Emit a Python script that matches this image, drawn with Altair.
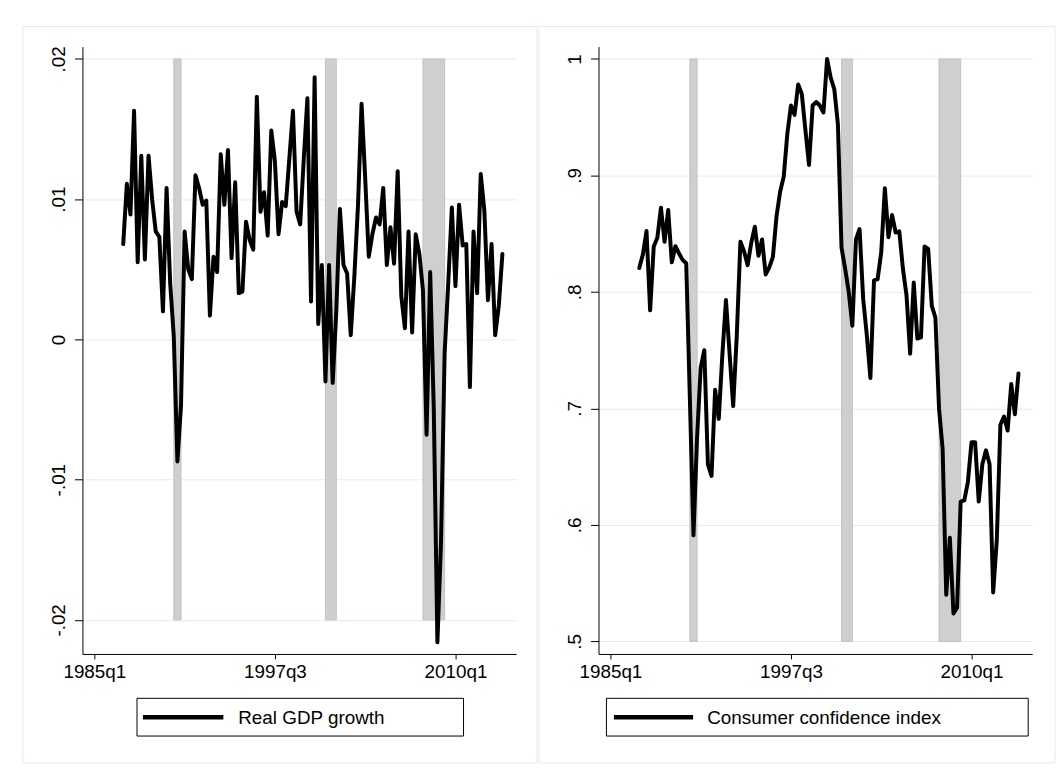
import altair as alt
import pandas as pd

# ---- data (Stata quarterly index: 100 = 1985q1) ----
quarters = list(range(108, 214))  # 1987q1 .. 2013q2

gdp_growth = [
    0.0068, 0.0111, 0.0089, 0.0163, 0.0055, 0.0131, 0.0057, 0.0131, 0.0100, 0.0077,
    0.0073, 0.0020, 0.0108, 0.0040, 0.0002, -0.0087, -0.0047, 0.0077, 0.0050, 0.0043,
    0.0117, 0.0108, 0.0096, 0.0099, 0.0017, 0.0059, 0.0048, 0.0132, 0.0096, 0.0135,
    0.0058, 0.0112, 0.0033, 0.0034, 0.0084, 0.0071, 0.0064, 0.0173, 0.0091, 0.0105,
    0.0074, 0.0149, 0.0127, 0.0075, 0.0098, 0.0095, 0.0129, 0.0163, 0.0091, 0.0082,
    0.0129, 0.0172, 0.0027, 0.0187, 0.0011, 0.0053, -0.0030, 0.0053, -0.0031, 0.0020,
    0.0093, 0.0053, 0.0047, 0.0003, 0.0045, 0.0095, 0.0168, 0.0115, 0.0059, 0.0075,
    0.0087, 0.0082, 0.0108, 0.0053, 0.0080, 0.0054, 0.0120, 0.0031, 0.0008, 0.0077,
    0.0005, 0.0075, 0.0061, 0.0035, -0.0068, 0.0048, -0.0050, -0.0216, -0.0145, -0.0010,
    0.0040, 0.0094, 0.0038, 0.0096, 0.0067, 0.0068, -0.0034, 0.0077, 0.0033, 0.0118,
    0.0092, 0.0028, 0.0068, 0.0003, 0.0024, 0.0061,
]

consumer_conf = [
    0.8205, 0.8324, 0.8523, 0.7842, 0.8390, 0.8466, 0.8722, 0.8430, 0.8703, 0.8254,
    0.8392, 0.8330, 0.8275, 0.8245, 0.709, 0.591, 0.675, 0.735, 0.750, 0.652,
    0.642, 0.716, 0.691, 0.746, 0.793, 0.747, 0.702, 0.763, 0.843, 0.835,
    0.823, 0.842, 0.856, 0.831, 0.845, 0.815, 0.821, 0.830, 0.865, 0.886,
    0.899, 0.936, 0.960, 0.952, 0.978, 0.970, 0.939, 0.909, 0.960, 0.963,
    0.960, 0.954, 1.000, 0.984, 0.974, 0.944, 0.838, 0.820, 0.800, 0.771,
    0.845, 0.854, 0.794, 0.763, 0.726, 0.810, 0.811, 0.834, 0.889, 0.847,
    0.866, 0.851, 0.852, 0.820, 0.797, 0.747, 0.808, 0.760, 0.761, 0.839,
    0.837, 0.788, 0.778, 0.700, 0.665, 0.540, 0.589, 0.524, 0.529, 0.620,
    0.621, 0.637, 0.671, 0.671, 0.620, 0.652, 0.664, 0.652, 0.542, 0.587,
    0.686, 0.693, 0.681, 0.721, 0.695, 0.730,
]

# NBER recessions (quarter index)
rec_start = [122, 164, 191]
rec_end = [124, 167, 197]

x_tick_values = [100, 150, 200]
x_tick_labels = ["1985q1", "1997q3", "2010q1"]

gdp_tick_values = [-0.02, -0.01, 0, 0.01, 0.02]
gdp_tick_labels = ["-.02", "-.01", "0", ".01", ".02"]
cci_tick_values = [0.5, 0.6, 0.7, 0.8, 0.9, 1]
cci_tick_labels = [".5", ".6", ".7", ".8", ".9", "1"]

legend_labels = ["Real GDP growth", "Consumer confidence index"]

FONT = "Liberation Sans"
FS = 19
W, H = 437, 612


def label_expr(values, labels):
    expr = "''"
    for v, l in reversed(list(zip(values, labels))):
        expr = f"datum.value == {v} ? '{l}' : ({expr})"
    return expr


x_axis = alt.Axis(
    values=x_tick_values, labelExpr=label_expr(x_tick_values, x_tick_labels),
    title=None, grid=False, tickSize=5, tickColor="black", domainColor="black",
    labelFont=FONT, labelFontSize=FS, labelColor="black", labelPadding=4,
    labelOverlap=False, labelFlush=False,
)


def make_y_axis(values, labels):
    return alt.Axis(
        values=values, labelExpr=label_expr(values, labels), title=None,
        grid=True, gridColor="#e3ebed", gridWidth=1,
        tickSize=8, tickColor="black", domainColor="black",
        labelFont=FONT, labelFontSize=FS, labelColor="black",
        labelAngle=270, labelAlign="center", labelBaseline="bottom",
        labelPadding=6, labelOverlap=False, labelFlush=False,
    )


def panel(values, ydom, shade_lo, shade_hi, tvals, tlabels, legend_label,
          box_x, box_x2, sym_x, sym_x2, txt_x, frame_x2):
    df = pd.DataFrame({"t": quarters, "v": values})
    rec = pd.DataFrame({"start": rec_start, "end": rec_end,
                        "lo": [shade_lo] * 3, "hi": [shade_hi] * 3})
    xs = alt.Scale(domain=[96.7, 216.8], nice=False, zero=False)
    ys = alt.Scale(domain=ydom, nice=False, zero=False)
    y_axis = make_y_axis(tvals, tlabels)

    shade = alt.Chart(rec).mark_rect(fill="#cfcfcf", stroke="#c2c2c2", strokeWidth=1).encode(
        x=alt.X("start:Q", scale=xs, axis=x_axis),
        x2="end:Q",
        y=alt.Y("lo:Q", scale=ys, axis=y_axis),
        y2="hi:Q",
    )
    line = alt.Chart(df).mark_line(
        color="black", strokeWidth=4, strokeJoin="round", strokeCap="round"
    ).encode(
        x=alt.X("t:Q", scale=xs, axis=x_axis),
        y=alt.Y("v:Q", scale=ys, axis=y_axis),
    )
    ldf = pd.DataFrame({"label": [legend_label]})
    frame = alt.Chart(ldf).mark_rect(fillOpacity=0, stroke="#e3ebed", strokeWidth=1).encode(
        x=alt.value(-60), x2=alt.value(frame_x2), y=alt.value(-20.3), y2=alt.value(721.7)
    )
    box = alt.Chart(ldf).mark_rect(fillOpacity=0, stroke="black", strokeWidth=1).encode(
        x=alt.value(box_x), x2=alt.value(box_x2), y=alt.value(656.7), y2=alt.value(694.7)
    )
    sym = alt.Chart(ldf).mark_rule(color="black", strokeWidth=4.5).encode(
        x=alt.value(sym_x), x2=alt.value(sym_x2), y=alt.value(675.7)
    )
    txt = alt.Chart(ldf).mark_text(
        align="left", baseline="middle", font=FONT, fontSize=FS, color="black"
    ).encode(text="label:N", x=alt.value(txt_x), y=alt.value(676.5))

    return alt.layer(frame, shade, line, box, sym, txt).properties(width=W, height=H)


left = panel(gdp_growth, [-0.02243, 0.02088], -0.02, 0.02,
             gdp_tick_values, gdp_tick_labels, legend_labels[0],
             55, 384, 61, 142, 157, 458)
right = panel(consumer_conf, [0.4892, 1.0106], 0.5, 1.0,
              cci_tick_values, cci_tick_labels, legend_labels[1],
              8, 433, 15.5, 95.3, 109.6, 460)

chart = alt.hconcat(left, right, spacing=0).properties(
    padding={"left": 14, "top": 15, "right": 0, "bottom": 0},
    background="white",
).configure_view(stroke=None)

chart.save("out.html", embed_options={"renderer": "svg", "actions": False})
